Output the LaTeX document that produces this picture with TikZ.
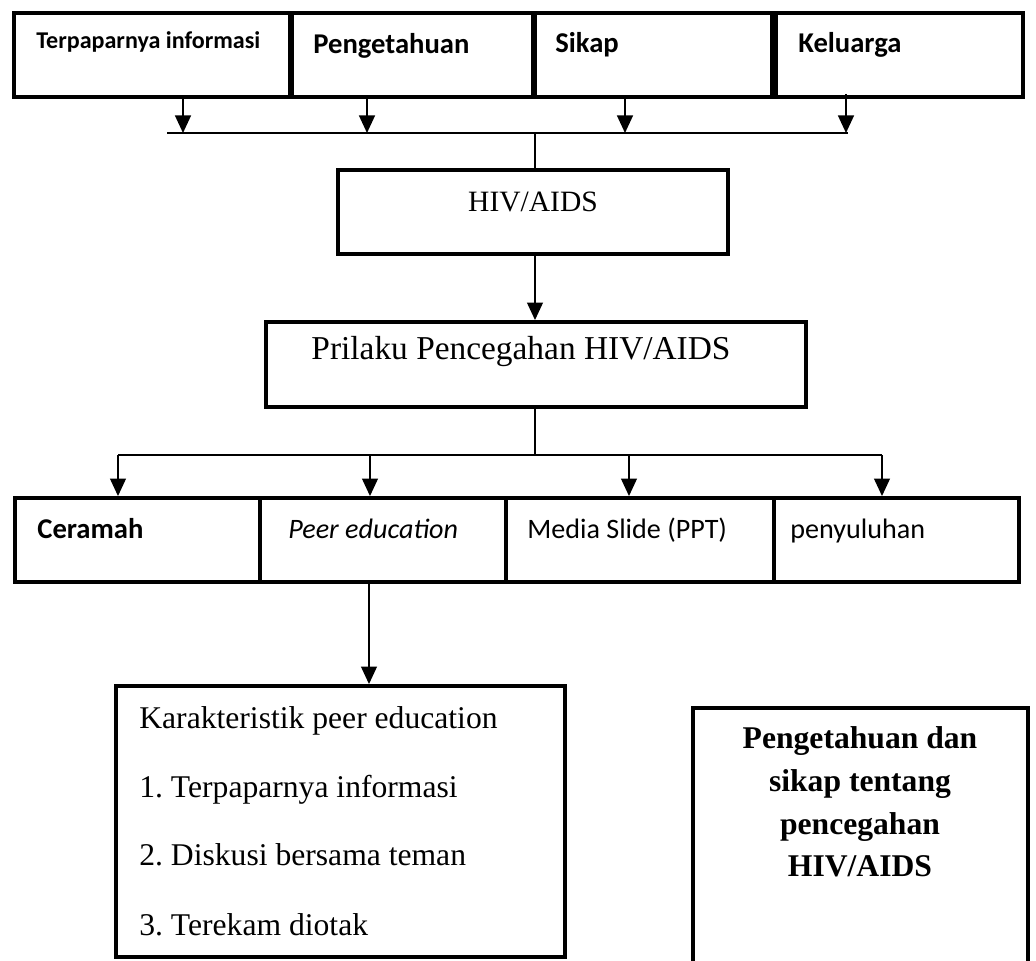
\documentclass[tikz,border=0pt]{standalone}
\usepackage{fontspec}
\setmainfont{Liberation Serif}
\newfontfamily\calibri{Carlito}
\usetikzlibrary{arrows.meta,fit}
\frenchspacing

\begin{document}
\begin{tikzpicture}[
    x=0.02cm, y=-0.02cm,
    kotak/.style={draw,line width=2.2pt,inner sep=0pt},
    garis/.style={line width=1.1pt},
    panah/.style={garis,-{Triangle[width=9pt,length=10pt]}},
    judul/.style={font=\calibri\bfseries\fontsize{16.3}{19}\selectfont,inner sep=0pt,anchor=base west},
    biasa/.style={font=\calibri\fontsize{16}{19}\selectfont,inner sep=0pt,anchor=base west},
    serif/.style={font=\fontsize{18}{22}\selectfont,inner sep=0pt}]

  \clip (0,0) rectangle (1036,961);

  % ---- baris atas: faktor-faktor ---------------------------------------------
  \node[kotak,fit={(14,13)(290,97)}]    (terpapar)  {};
  \node[kotak,fit={(292,13)(533,97)}]   (tahu)      {};
  \node[kotak,fit={(535,13)(772,97)}]   (sikap)     {};
  \node[kotak,fit={(776,13)(1023,97)}]  (keluarga)  {};
  \node[judul,font=\calibri\bfseries\fontsize{13.7}{16}\selectfont] (t-terpapar) at (36,48) {Terpaparnya informasi};
  \node[judul] (t-tahu)     at (313,53) {Pengetahuan};
  \node[judul] (t-sikap)    at (555,52) {Sikap};
  \node[judul] (t-keluarga) at (798,52) {Keluarga};

  % garis pengumpul
  \coordinate (g-kiri)  at (167,133);
  \coordinate (g-kanan) at (848,133);
  \coordinate (a1) at (183,133);
  \coordinate (a2) at (367,133);
  \coordinate (a3) at (625,133);
  \coordinate (a4) at (846,133);
  \coordinate (g-tengah) at (535,133);
  \draw[line width=0.8pt] (g-kiri) -- (g-kanan);
  \draw[panah] (terpapar.south -| a1) -- (a1);
  \draw[panah] (tahu.south -| a2)     -- (a2);
  \draw[panah] (sikap.south -| a3)    -- (a3);
  \draw[panah] ([yshift=0.1cm]keluarga.south -| a4) -- (a4);

  % ---- tengah ----------------------------------------------------------------
  \node[kotak,fit={(338,170)(728,254)}] (hiv) {};
  \node[serif,font=\fontsize{16.8}{20}\selectfont] (t-hiv) at (533,202) {HIV/AIDS};
  \node[kotak,fit={(266,322)(806,407)}] (prilaku) {};
  \node[serif,font=\fontsize{19}{22}\selectfont] (t-prilaku) at (521,352) {Prilaku Pencegahan HIV/AIDS};
  \draw[garis] (g-tengah) -- (g-tengah |- hiv.north);
  \draw[panah] (hiv.south -| g-tengah) -- (prilaku.north -| g-tengah);

  % ---- baris bawah: metode ---------------------------------------------------
  \node[kotak,fit={(15,498)(260,582)}]   (ceramah)    {};
  \node[kotak,fit={(260,498)(506,582)}]  (peer)       {};
  \node[kotak,fit={(506,498)(774,582)}]  (media)      {};
  \node[kotak,fit={(774,498)(1019,582)}] (penyuluhan) {};
  \node[judul] (t-ceramah)    at (37,538)  {Ceramah};
  \node[biasa] (t-peer)       at (288,538) {\itshape Peer education};
  \node[biasa] (t-media)      at (527,538) {Media Slide (PPT)};
  \node[biasa] (t-penyuluhan) at (790,538) {penyuluhan};

  \coordinate (c-tengah) at (535,455);
  \coordinate (b1) at (118,455);
  \coordinate (b2) at (370,455);
  \coordinate (b3) at (629,455);
  \coordinate (b4) at (882,455);
  \draw[garis] (prilaku.south -| c-tengah) -- (c-tengah);
  \draw[garis] (b1) -- (b4);
  \draw[panah] (b1) -- (b1 |- ceramah.north);
  \draw[panah] (b2) -- (b2 |- peer.north);
  \draw[panah] (b3) -- (b3 |- media.north);
  \draw[panah] (b4) -- (b4 |- penyuluhan.north);

  % ---- karakteristik peer education ------------------------------------------
  \node[kotak,fit={(116,686)(565,957)}] (karakter) {};
  \coordinate (x-peer) at (369,600);
  \draw[panah] (peer.south -| x-peer) -- (karakter.north -| x-peer);
  \node[serif,anchor=base west] (k0) at (139,728) {Karakteristik peer education};
  \node[serif,anchor=base west] (k1) at (139,797) {1. Terpaparnya informasi};
  \node[serif,anchor=base west] (k2) at (139,865) {2. Diskusi bersama teman};
  \node[serif,anchor=base west] (k3) at (139,935) {3. Terekam diotak};

  % ---- kotak kanan -----------------------------------------------------------
  \node[kotak,fit={(693,708)(1028,1010)}] (hasil) {};
  \node[serif,anchor=north,align=center,font=\bfseries\fontsize{18}{24.4}\selectfont] (t-hasil) at (860,726)
    {Pengetahuan dan\\sikap tentang\\pencegahan\\HIV/AIDS};

\end{tikzpicture}
\end{document}
